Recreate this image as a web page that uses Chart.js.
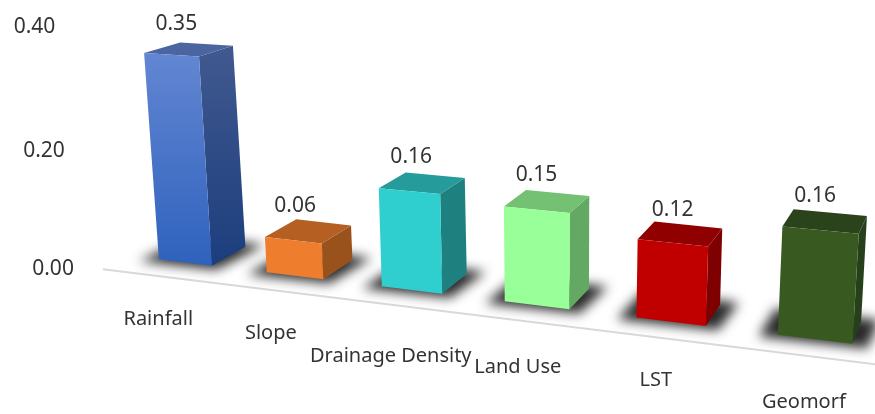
<!DOCTYPE html>
<html>
<head>
<meta charset="utf-8">
<style>
  html, body { margin: 0; padding: 0; background: #fff; }
  canvas { display: block; }
</style>
<script src="https://cdn.jsdelivr.net/npm/chart.js@4"></script>
</head>
<body>
<canvas id="chart" width="875" height="414"></canvas>
<script>
const categories = ['Rainfall', 'Slope', 'Drainage Density', 'Land Use', 'LST', 'Geomorf'];
const weights = [0.35, 0.06, 0.16, 0.15, 0.12, 0.16];
const yTickValues = [0, 0.2, 0.4];

// face colours: front top/bottom, side top/bottom, top face
const frontTop = ['#6286d2', '#ee7d2e', '#2fcfcf', '#99ff99', '#c00000', '#385a21'];
const frontBottom = ['#2f62bd', '#ee7d2e', '#2fcfcf', '#99ff99', '#c00000', '#385a21'];
const sideTop = ['#41598f', '#9a521c', '#1f8080', '#63a863', '#7f0000', '#25401a'];
const sideBottom = ['#1c3e7d', '#9a521c', '#1f8080', '#63a863', '#7f0000', '#25401a'];
const topFace = ['#4a659f', '#b56022', '#259b9b', '#74c174', '#900000', '#2b431a'];

// where the front plane of the bars lands on screen (value 0 left/right, value 0.40 right/left)
const corners = [[133, 256], [891, 348.5], [909, 62], [115, 21]];
const depthPoint = [1070, -218];
const barDepth = 0.039;
const axisDepth = -0.03;
const labelShift = [[-27, 57], [-24, 58], [-21, 66], [-19, 62], [-15, 59], [-11, 63]];
const valueShift = [[5, 4], [2, 0], [2, 0], [0, 0], [0, 2], [-5, 0]];
const textFont = '20px "Noto Sans"';
const numberFont = '21px "Noto Sans"';

const [p0, p1, p2, p3] = corners;
const dx1 = p1[0] - p2[0], dy1 = p1[1] - p2[1];
const dx2 = p3[0] - p2[0], dy2 = p3[1] - p2[1];
const sx = p0[0] - p1[0] + p2[0] - p3[0], sy = p0[1] - p1[1] + p2[1] - p3[1];
const den = dx1 * dy2 - dx2 * dy1;
const g = (sx * dy2 - dx2 * sy) / den;
const h = (dx1 * sy - sx * dy1) / den;
const a = p1[0] - p0[0] + g * p1[0], b = p3[0] - p0[0] + h * p3[0];
const d = p1[1] - p0[1] + g * p1[1], e = p3[1] - p0[1] + h * p3[1];

let area = null;

// chart pixel -> tilted front plane
const project = (px, py) => {
  const u = (px - area.left) / (area.right - area.left);
  const v = (area.bottom - py) / (area.bottom - area.top);
  const w = g * u + h * v + 1;
  return [(a * u + b * v + p0[0]) / w, (d * u + e * v + p0[1]) / w];
};

const push = (p, t) => [p[0] + t * (depthPoint[0] - p[0]), p[1] + t * (depthPoint[1] - p[1])];

const fillPoly = (ctx, pts, fill) => {
  ctx.beginPath();
  pts.forEach((p, i) => (i ? ctx.lineTo(p[0], p[1]) : ctx.moveTo(p[0], p[1])));
  ctx.closePath();
  ctx.fillStyle = fill;
  ctx.fill();
};

const vGradient = (ctx, y0, y1, c0, c1) => {
  const grad = ctx.createLinearGradient(0, y0, 0, y1);
  grad.addColorStop(0, c0);
  grad.addColorStop(1, c1);
  return grad;
};

// bars are drawn as boxes on the tilted plane
Chart.BarElement.prototype.draw = function (ctx) {
  const { x, y, base, width } = this.getProps(['x', 'y', 'base', 'width']);
  const i = this.$context.dataIndex;
  const tl = project(x - width / 2, y), tr = project(x + width / 2, y);
  const br = project(x + width / 2, base), bl = project(x - width / 2, base);
  const tlb = push(tl, barDepth), trb = push(tr, barDepth);
  const brb = push(br, barDepth), blb = push(bl, barDepth);

  // floor shadow
  const foot = [bl, br, brb, blb];
  const cx = (bl[0] + br[0] + brb[0] + blb[0]) / 4;
  const cy = (bl[1] + br[1] + brb[1] + blb[1]) / 4;
  ctx.save();
  ctx.filter = 'blur(6px)';
  fillPoly(ctx, foot.map(p => [cx + (p[0] - cx) * 1.45, cy + (p[1] - cy) * 1.3]), 'rgba(30,30,30,0.95)');
  ctx.restore();

  fillPoly(ctx, [tr, trb, brb, br], vGradient(ctx, trb[1], br[1], sideTop[i], sideBottom[i]));
  fillPoly(ctx, [tl, tlb, trb, tr], topFace[i]);
  fillPoly(ctx, [tl, tr, br, bl], vGradient(ctx, tl[1], br[1], frontTop[i], frontBottom[i]));
};

const tiltedLabels = {
  id: 'tiltedLabels',
  beforeDatasetsDraw(chart) {
    area = chart.chartArea;
    const ctx = chart.ctx;
    const start = push(project(area.left, area.bottom), axisDepth);
    const end = push(project(area.right, area.bottom), axisDepth);
    ctx.save();
    ctx.strokeStyle = '#d9d9d9';
    ctx.lineWidth = 2;
    ctx.beginPath();
    ctx.moveTo(start[0] - 2, start[1] - 1);
    ctx.lineTo(end[0], end[1]);
    ctx.stroke();
    ctx.restore();
  },
  afterDraw(chart) {
    const ctx = chart.ctx;
    const xScale = chart.scales.x, yScale = chart.scales.y;
    ctx.save();
    ctx.fillStyle = '#333333';
    ctx.textBaseline = 'middle';

    ctx.font = numberFont;
    ctx.textAlign = 'right';
    yScale.ticks.forEach(tick => {
      const p = push(project(area.left, yScale.getPixelForValue(tick.value)), axisDepth);
      ctx.fillText(tick.value.toFixed(2), p[0] - 31, p[1] - 1);
    });

    ctx.textAlign = 'center';
    chart.getDatasetMeta(0).data.forEach((el, i) => {
      const p = project(el.x, el.y);
      ctx.fillText(weights[i].toFixed(2), p[0] + valueShift[i][0], p[1] - 34.5 + valueShift[i][1]);
    });

    ctx.font = textFont;
    xScale.ticks.forEach((tick, i) => {
      const p = project(xScale.getPixelForTick(i), yScale.getPixelForValue(0));
      ctx.fillText(categories[tick.value], p[0] + labelShift[i][0], p[1] + labelShift[i][1]);
    });
    ctx.restore();
  }
};

new Chart(document.getElementById('chart').getContext('2d'), {
  type: 'bar',
  data: {
    labels: categories,
    datasets: [{
      data: weights,
      backgroundColor: frontBottom,
      barPercentage: 0.5,
      categoryPercentage: 1
    }]
  },
  options: {
    responsive: false,
    animation: false,
    layout: { padding: 0 },
    plugins: { legend: { display: false }, tooltip: { enabled: false } },
    scales: {
      x: { ticks: { display: false }, grid: { display: false }, border: { display: false } },
      y: {
        min: 0,
        max: 0.4,
        afterBuildTicks: scale => { scale.ticks = yTickValues.map(value => ({ value })); },
        ticks: { display: false },
        grid: { display: false },
        border: { display: false }
      }
    }
  },
  plugins: [tiltedLabels]
});
</script>
</body>
</html>
